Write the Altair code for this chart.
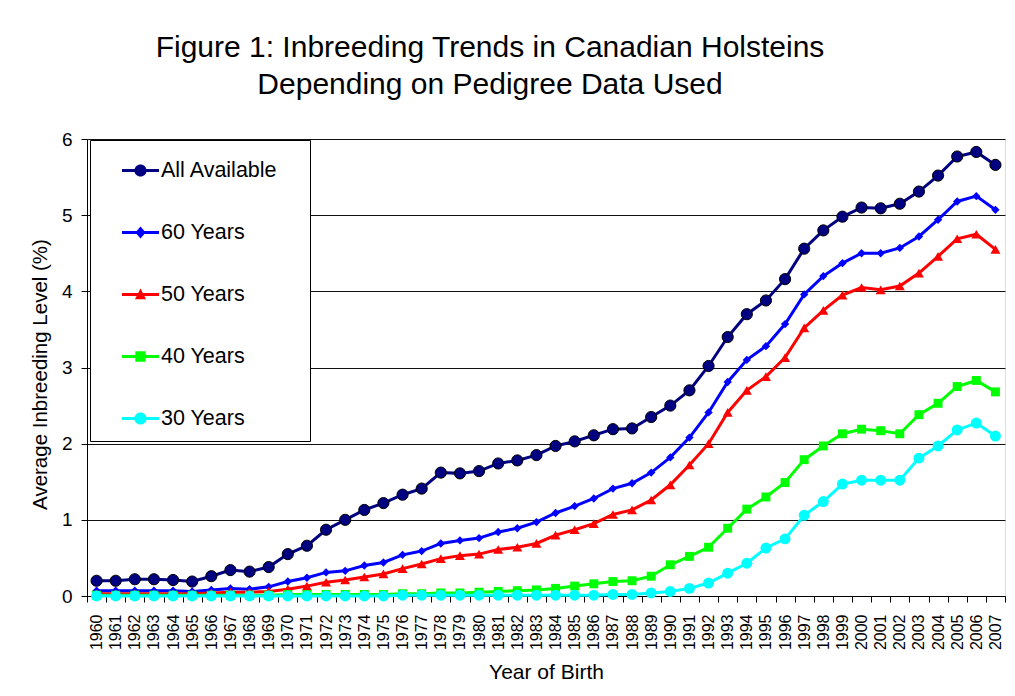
import altair as alt
import pandas as pd

years = [str(y) for y in range(1960, 2008)]
series_names = ["All Available", "60 Years", "50 Years", "40 Years", "30 Years"]
series_colors = ["#000080", "#0000FF", "#FF0000", "#00FF00", "#00FFFF"]

all_available = [0.20, 0.20, 0.22, 0.22, 0.21, 0.19, 0.26, 0.34, 0.32, 0.38,
                 0.55, 0.66, 0.87, 1.00, 1.13, 1.22, 1.33, 1.41, 1.62, 1.61,
                 1.64, 1.74, 1.78, 1.85, 1.97, 2.03, 2.11, 2.19, 2.20, 2.35,
                 2.50, 2.70, 3.02, 3.40, 3.70, 3.88, 4.16, 4.56, 4.80, 4.98,
                 5.10, 5.09, 5.15, 5.31, 5.52, 5.77, 5.83, 5.66]
years_60 = [0.07, 0.07, 0.07, 0.07, 0.07, 0.06, 0.08, 0.10, 0.09, 0.12,
            0.19, 0.24, 0.31, 0.33, 0.40, 0.44, 0.54, 0.59, 0.69, 0.73,
            0.76, 0.84, 0.89, 0.97, 1.09, 1.18, 1.28, 1.41, 1.48, 1.62,
            1.82, 2.08, 2.41, 2.81, 3.10, 3.28, 3.57, 3.96, 4.20, 4.37,
            4.50, 4.50, 4.57, 4.72, 4.94, 5.18, 5.25, 5.07]
years_50 = [0.03, 0.03, 0.03, 0.03, 0.03, 0.03, 0.04, 0.05, 0.05, 0.06,
            0.09, 0.13, 0.18, 0.21, 0.25, 0.29, 0.36, 0.42, 0.49, 0.53,
            0.55, 0.61, 0.64, 0.69, 0.80, 0.87, 0.95, 1.07, 1.13, 1.26,
            1.46, 1.72, 2.00, 2.41, 2.70, 2.88, 3.13, 3.52, 3.75, 3.95,
            4.05, 4.02, 4.07, 4.24, 4.46, 4.69, 4.75, 4.55]
years_40 = [0.01, 0.01, 0.01, 0.01, 0.01, 0.01, 0.01, 0.01, 0.01, 0.01,
            0.02, 0.02, 0.02, 0.02, 0.02, 0.02, 0.03, 0.03, 0.04, 0.04,
            0.05, 0.06, 0.07, 0.08, 0.10, 0.13, 0.16, 0.19, 0.20, 0.26,
            0.41, 0.52, 0.64, 0.89, 1.14, 1.30, 1.49, 1.79, 1.97, 2.13,
            2.19, 2.17, 2.13, 2.38, 2.53, 2.75, 2.83, 2.68]
years_30 = [0.00, 0.00, 0.00, 0.00, 0.00, 0.00, 0.00, 0.00, 0.00, 0.00,
            0.00, 0.00, 0.00, 0.00, 0.00, 0.00, 0.01, 0.01, 0.01, 0.01,
            0.01, 0.01, 0.01, 0.01, 0.01, 0.01, 0.01, 0.02, 0.02, 0.04,
            0.06, 0.10, 0.17, 0.30, 0.43, 0.63, 0.75, 1.06, 1.24, 1.47,
            1.52, 1.52, 1.52, 1.81, 1.97, 2.18, 2.27, 2.10]

series_values = [all_available, years_60, years_50, years_40, years_30]

rows = []
for name, vals in zip(series_names, series_values):
    for yr, v in zip(years, vals):
        rows.append({"year": yr, "series": name, "value": v})
df = pd.DataFrame(rows)

FONT = "Liberation Sans"

x_enc = alt.X("year:O", sort=years,
              scale=alt.Scale(paddingInner=0, paddingOuter=0),
              axis=alt.Axis(title="Year of Birth", labelAngle=270, labelFontSize=16,
                            labelFont=FONT, labelPadding=12, tickSize=6, tickBand="extent",
                            titleFont=FONT, titleFontSize=21, titleFontWeight="normal",
                            titlePadding=12, grid=False, domainColor="black",
                            tickColor="black", labelColor="black", titleColor="black"))
y_enc = alt.Y("value:Q",
              scale=alt.Scale(domain=[0, 6], nice=False),
              axis=alt.Axis(title="Average Inbreeding Level (%)", values=[0, 1, 2, 3, 4, 5, 6],
                            labelFontSize=19, labelFont=FONT, labelPadding=9, tickSize=6,
                            titleFont=FONT, titleFontSize=20.5, titleFontWeight="normal",
                            titlePadding=11, titleY=235, grid=True, gridColor="#111111",
                            gridWidth=1, domainColor="black", tickColor="black",
                            labelColor="black", titleColor="black"))

marker_shapes = ["circle", "diamond", "triangle-up", "square", "circle"]
marker_sizes = [125, 70, 100, 80, 120]

base = alt.Chart(df)
layers = []
for i, name in enumerate(series_names):
    sub = base.transform_filter(alt.datum.series == name)
    line = sub.mark_line(strokeWidth=3, color=series_colors[i]).encode(x=x_enc, y=y_enc)
    pt_kwargs = dict(filled=True, opacity=1, shape=marker_shapes[i], size=marker_sizes[i],
                     color=series_colors[i])
    if i == 0:
        pt_kwargs.update(stroke="black", strokeWidth=1)
    pts = sub.mark_point(**pt_kwargs).encode(x=x_enc, y=y_enc)
    layers += [line, pts]

# legend symbols: line segment with marker (unit square coordinates)
rect = "M-1,-0.08H1V0.08H-1Z "
def circ(r):
    return f"M{-r},0A{r},{r} 0 1,1 {r},0A{r},{r} 0 1,1 {-r},0Z"
legend_paths = [
    rect + circ(0.33),
    rect + "M0,-0.32L0.28,0L0,0.32L-0.28,0Z",
    rect + "M0,-0.32L0.3,0.25L-0.3,0.25Z",
    rect + "M-0.28,-0.28H0.28V0.28H-0.28Z",
    rect + circ(0.33),
]

# an invisible spacer title on the right gives the legend box its extra width
legend_def = alt.Legend(orient="none", legendX=3, legendY=1, title="MM",
                        titleOrient="right", titleOpacity=0, titleFontSize=9,
                        titlePadding=5,
                        padding=12, rowPadding=33, symbolSize=1369,
                        symbolOffset=20, labelOffset=2, labelFontSize=21.5,
                        labelFont=FONT, labelColor="black",
                        strokeColor="black", fillColor="white",
                        symbolStrokeWidth=0, symbolOpacity=1)

legend_layer = base.transform_filter("false").mark_point(filled=True, opacity=1, size=1369).encode(
    x=x_enc, y=y_enc,
    fill=alt.Fill("series:N", scale=alt.Scale(domain=series_names, range=series_colors),
                  legend=legend_def),
    shape=alt.Shape("series:N", scale=alt.Scale(domain=series_names, range=legend_paths),
                    legend=legend_def),
)

chart = alt.layer(*layers, legend_layer).properties(
    width=918, height=457,
    padding={"left": 22, "top": 25, "right": 0, "bottom": 0},
    title=alt.TitleParams(
        text=["Figure 1: Inbreeding Trends in Canadian Holsteins",
              "Depending on Pedigree Data Used"],
        font=FONT, fontSize=30, fontWeight="normal", lineHeight=37,
        anchor="middle", frame="group", dx=-56, offset=30, color="black"),
).configure_view(strokeWidth=0).configure(background="white")

chart.save("out.html", embed_options={"renderer": "svg", "actions": False})
